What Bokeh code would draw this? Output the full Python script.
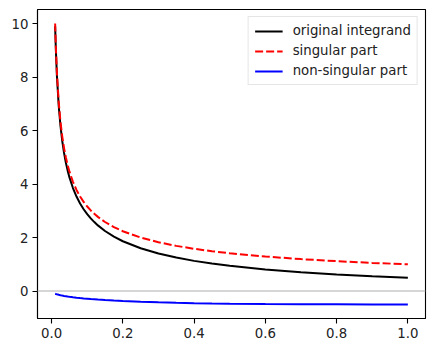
from bokeh.plotting import figure
from bokeh.models import FixedTicker, Range1d, Span, Legend, LegendItem
from bokeh.embed import file_html
from bokeh.resources import INLINE

x = [0.01, 0.012, 0.015, 0.02, 0.025, 0.03, 0.035, 0.04, 0.045, 0.05, 0.06, 0.07, 0.08, 0.09, 0.1,
     0.11, 0.12, 0.13, 0.15, 0.175, 0.2, 0.25, 0.3, 0.35, 0.4, 0.45, 0.5, 0.6, 0.7, 0.8, 0.9, 1.0]
original = [9.901, 9.021, 8.044, 6.932, 6.171, 5.606, 5.164, 4.808, 4.511, 4.259, 3.851, 3.533, 3.274, 3.058, 2.875,
            2.716, 2.578, 2.455, 2.245, 2.034, 1.863, 1.6, 1.405, 1.252, 1.129, 1.028, 0.943, 0.807, 0.703, 0.621, 0.555, 0.5]
singular = [10.0, 9.129, 8.165, 7.071, 6.325, 5.774, 5.345, 5.0, 4.714, 4.472, 4.082, 3.780, 3.536, 3.333, 3.162,
            3.015, 2.887, 2.774, 2.582, 2.390, 2.236, 2.0, 1.826, 1.690, 1.581, 1.491, 1.414, 1.291, 1.195, 1.118, 1.054, 1.0]
nonsingular = [-0.099, -0.108, -0.121, -0.139, -0.154, -0.168, -0.181, -0.192, -0.203, -0.213, -0.231, -0.247, -0.262, -0.275, -0.287,
               -0.299, -0.309, -0.319, -0.337, -0.356, -0.373, -0.4, -0.421, -0.438, -0.452, -0.463, -0.471, -0.484, -0.492, -0.497, -0.499, -0.5]
x_ticks = [0.0, 0.2, 0.4, 0.6, 0.8, 1.0]
y_ticks = [0, 2, 4, 6, 8, 10]
labels = ["original integrand", "singular part", "non-singular part"]

p = figure(width=434, height=351, output_backend="svg", toolbar_location=None,
           x_range=Range1d(-0.0395, 1.0495), y_range=Range1d(-1.025, 10.525),
           min_border_left=37, min_border_right=9, min_border_top=9, min_border_bottom=33)
p.grid.visible = False
p.outline_line_color = "black"
p.outline_line_width = 1.1
p.background_fill_color = "white"
p.border_fill_color = "white"

for ax, ticks in ((p.xaxis[0], x_ticks), (p.yaxis[0], y_ticks)):
    ax.ticker = FixedTicker(ticks=ticks)
    ax.minor_tick_line_color = None
    ax.major_tick_out = 5
    ax.major_tick_in = 0
    ax.major_tick_line_width = 1.1
    ax.axis_line_width = 1.1
    ax.major_label_text_font = "DejaVu Sans"
    ax.major_label_text_font_size = "13.3px"
    ax.major_label_text_color = "#222222"
p.xaxis[0].major_label_overrides = {t: f"{t:.1f}" for t in x_ticks}
p.xaxis[0].major_label_standoff = 4
p.yaxis[0].major_label_standoff = 4

p.add_layout(Span(location=0, dimension="width", line_color="#c8c8c8", line_width=1.5))

r1 = p.line(x, original, line_color="black", line_width=2)
r2 = p.line(x, singular, line_color="red", line_width=2, line_dash="8 3")
r3 = p.line(x, nonsingular, line_color="blue", line_width=2)

legend = Legend(items=[LegendItem(label=labels[0], renderers=[r1]),
                       LegendItem(label=labels[1], renderers=[r2]),
                       LegendItem(label=labels[2], renderers=[r3])],
                location="top_right")
legend.label_text_font = "DejaVu Sans"
legend.label_text_font_size = "13.3px"
legend.label_text_color = "#222222"
legend.border_line_color = "#cccccc"
legend.border_line_width = 1
legend.glyph_width = 28
legend.glyph_height = 14
legend.label_height = 14
legend.spacing = 5
legend.padding = 6
legend.margin = 7
legend.label_standoff = 10
p.add_layout(legend)

open("out.html", "w").write(file_html(p, INLINE))
